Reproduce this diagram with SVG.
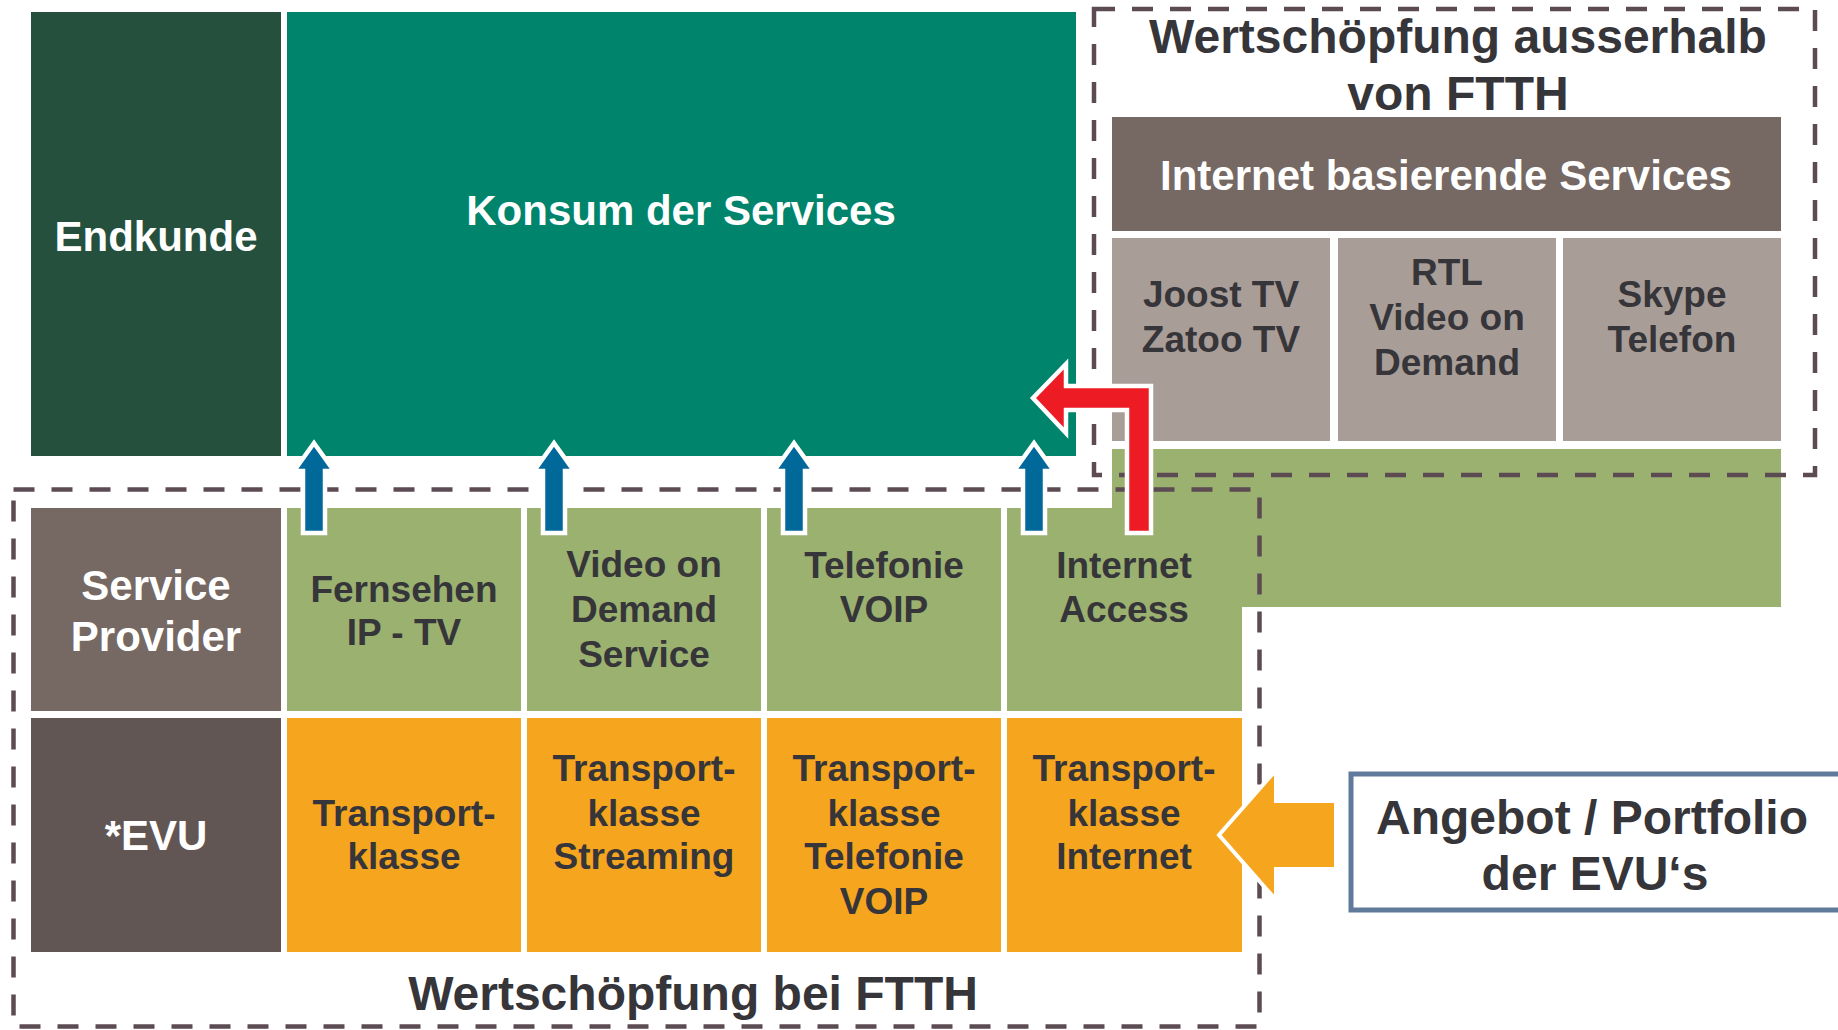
<svg xmlns="http://www.w3.org/2000/svg" width="1838" height="1030" viewBox="0 0 1838 1030">
<style>
text{font-family:"Liberation Sans",Arial,sans-serif;font-weight:bold;text-anchor:middle}
.w{fill:#ffffff}
.d{fill:#363539}
.t42{font-size:42px}
.t37{font-size:37px}
.t48{font-size:48px}
.dash{fill:none;stroke:#5D4B54;stroke-width:4.5;stroke-dasharray:21 17}
.green{fill:#9BB170}
.orange{fill:#F6A51F}
.taupe{fill:#A99D98}
.arrB{fill:#00699A;stroke:#ffffff;stroke-width:4.5;stroke-linejoin:miter}
</style>
<rect width="1838" height="1030" fill="#ffffff"/>

<g id="endkunde">
<rect x="31" y="12" width="250" height="444" fill="#25503D"/>
<text class="w t42" x="156" y="251">Endkunde</text>
</g>

<g id="konsum">
<rect x="287" y="12" width="789" height="444" fill="#00846C"/>
<text class="w t42" x="681" y="225">Konsum der Services</text>
</g>

<g id="internet-services">
<rect x="1112" y="117" width="669" height="114" fill="#766862"/>
<text class="w t42" x="1446" y="190">Internet basierende Services</text>
</g>

<g id="joost">
<rect class="taupe" x="1112" y="238" width="218" height="203"/>
<text class="d t37" x="1221" y="307">Joost TV</text>
<text class="d t37" x="1221" y="352">Zatoo TV</text>
</g>
<g id="rtl">
<rect class="taupe" x="1338" y="238" width="218" height="203"/>
<text class="d t37" x="1447" y="285">RTL</text>
<text class="d t37" x="1447" y="330">Video on</text>
<text class="d t37" x="1447" y="375">Demand</text>
</g>
<g id="skype">
<rect class="taupe" x="1563" y="238" width="218" height="203"/>
<text class="d t37" x="1672" y="307">Skype</text>
<text class="d t37" x="1672" y="352">Telefon</text>
</g>

<g id="green-strip">
<rect class="green" x="1112" y="449" width="669" height="158"/>
</g>

<g id="service-provider">
<rect x="31" y="508" width="250" height="203" fill="#766862"/>
<text class="w t42" x="156" y="600">Service</text>
<text class="w t42" x="156" y="651">Provider</text>
</g>
<g id="evu">
<rect x="31" y="718" width="250" height="234" fill="#625654"/>
<text class="w t42" x="156" y="850">*EVU</text>
</g>

<g id="fernsehen">
<rect class="green" x="287" y="508" width="234" height="203"/>
<text class="d t37" x="404" y="602">Fernsehen</text>
<text class="d t37" x="404" y="645">IP - TV</text>
</g>
<g id="vod">
<rect class="green" x="527" y="508" width="234" height="203"/>
<text class="d t37" x="644" y="577">Video on</text>
<text class="d t37" x="644" y="622">Demand</text>
<text class="d t37" x="644" y="667">Service</text>
</g>
<g id="telefonie">
<rect class="green" x="767" y="508" width="234" height="203"/>
<text class="d t37" x="884" y="578">Telefonie</text>
<text class="d t37" x="884" y="622">VOIP</text>
</g>
<g id="internet-access">
<rect class="green" x="1007" y="508" width="235" height="203"/>
<text class="d t37" x="1124" y="578">Internet</text>
<text class="d t37" x="1124" y="622">Access</text>
</g>

<g id="tk">
<rect class="orange" x="287" y="718" width="234" height="234"/>
<text class="d t37" x="404" y="826">Transport-</text>
<text class="d t37" x="404" y="869">klasse</text>
</g>
<g id="tk-streaming">
<rect class="orange" x="527" y="718" width="234" height="234"/>
<text class="d t37" x="644" y="781">Transport-</text>
<text class="d t37" x="644" y="826">klasse</text>
<text class="d t37" x="644" y="869">Streaming</text>
</g>
<g id="tk-telefonie">
<rect class="orange" x="767" y="718" width="234" height="234"/>
<text class="d t37" x="884" y="781">Transport-</text>
<text class="d t37" x="884" y="826">klasse</text>
<text class="d t37" x="884" y="869">Telefonie</text>
<text class="d t37" x="884" y="914">VOIP</text>
</g>
<g id="tk-internet">
<rect class="orange" x="1007" y="718" width="235" height="234"/>
<text class="d t37" x="1124" y="781">Transport-</text>
<text class="d t37" x="1124" y="826">klasse</text>
<text class="d t37" x="1124" y="869">Internet</text>
</g>

<g id="angebot">
<rect x="1351" y="774" width="492" height="136" fill="#ffffff" stroke="#5F7A9B" stroke-width="5"/>
<text class="d t48" x="1592" y="834">Angebot / Portfolio</text>
<text class="d t48" x="1595" y="890">der EVU‘s</text>
</g>

<g id="frame-ausserhalb">
<rect class="dash" x="1094" y="9" width="721" height="466"/>
<text class="d t48" x="1458" y="53">Wertschöpfung ausserhalb</text>
<text class="d t48" x="1458" y="110">von FTTH</text>
</g>

<g id="frame-ftth">
<rect class="dash" x="13.5" y="489.5" width="1246" height="537"/>
<text class="d t48" x="693" y="1010">Wertschöpfung bei FTTH</text>
</g>

<g id="connectors">
<polygon class="arrB" points="303,533 303,471 294,471 314,443 334,471 325,471 325,533"/>
<polygon class="arrB" points="543,533 543,471 534,471 554,443 574,471 565,471 565,533"/>
<polygon class="arrB" points="783,533 783,471 774,471 794,443 814,471 805,471 805,533"/>
<polygon class="arrB" points="1023,533 1023,471 1014,471 1034,443 1054,471 1045,471 1045,533"/>
<polygon points="1127,533 1127,410 1066,410 1066,433 1033,398 1066,364 1066,386 1151,386 1151,533" fill="#ED1C24" stroke="#ffffff" stroke-width="4.5"/>
<polygon points="1336,801 1336,869 1276,869 1276,900 1219,835 1276,770 1276,801" fill="#F6A51F" stroke="#ffffff" stroke-width="4"/>
</g>
</svg>
